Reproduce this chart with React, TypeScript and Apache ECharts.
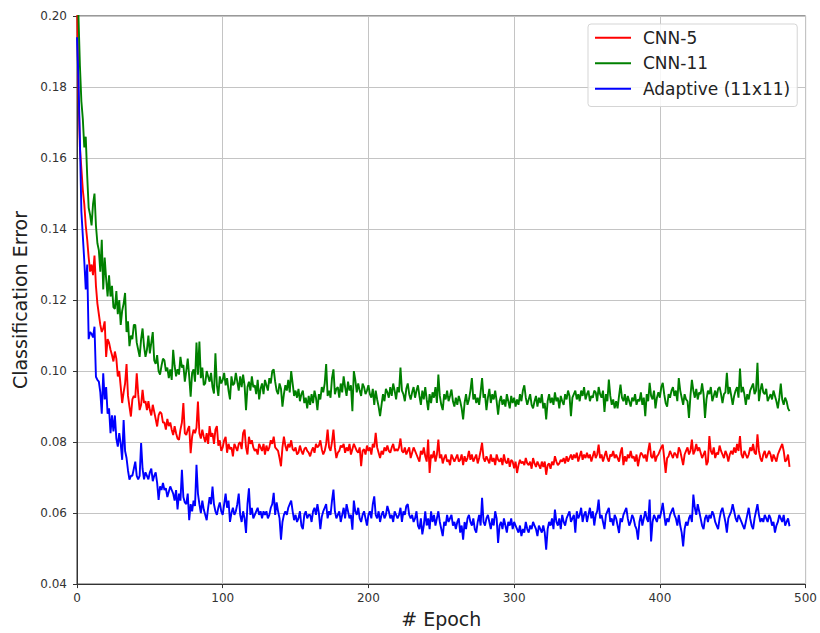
import React, { useEffect, useRef } from "react";
import * as echarts from "echarts";

const seriesNames = ["CNN-5", "CNN-11", "Adaptive (11x11)"];
const seriesColors = ["#ff0000", "#008000", "#0000ff"];
const xTicks = [0, 100, 200, 300, 400, 500];
const yTicks = [0.04, 0.06, 0.08, 0.1, 0.12, 0.14, 0.16, 0.18, 0.2];

const cnn5 = [
  .205, .178, .163, .157, .151, .147, .141, .137, .132, .128,
  .130, .127, .1325, .124, .119, .116, .113, .111, .112, .114,
  .104, .109, .108, .106, .1045, .1027, .1055, .1035, .0985, .100,
  .0956, .091, .094, .0965, .102, .093, .090, .0872, .092, .093,
  .0925, .0994, .0935, .089, .0905, .0947, .091, .0915, .089, .0915,
  .089, .0875, .0905, .0885, .0865, .0844, .0875, .0885, .088, .0855,
  .0855, .0835, .0865, .0845, .0855, .0835, .082, .0845, .0825, .081,
  .0806, .0835, .0855, .091, .0825, .082, .0835, .0845, .0769, .0815,
  .0835, .0825, .084, .0914, .0825, .081, .0835, .0815, .080, .0825,
  .0795, .0845, .0815, .0825, .0795, .0835, .0845, .079, .0805, .0775,
  .0785, .0805, .0815, .077, .0795, .078, .0785, .076, .0795, .0785,
  .0775, .0795, .080, .078, .0825, .0835, .0785, .0765, .0815, .0795,
  .0805, .0785, .0775, .078, .0765, .0795, .0785, .0775, .0795, .0765,
  .079, .0775, .0785, .0805, .0795, .0815, .0785, .078, .0775, .0755,
  .0732, .0785, .0815, .079, .0775, .0795, .0785, .0805, .078, .0775,
  .0785, .0765, .077, .079, .0775, .0765, .078, .0785, .0775, .077,
  .076, .0775, .0785, .077, .0795, .0785, .079, .0805, .078, .0765,
  .0775, .0795, .0835, .0785, .0775, .080, .0835, .0785, .0755, .077,
  .0775, .079, .0785, .0795, .077, .0785, .0775, .0795, .0765, .078,
  .0795, .0785, .0775, .077, .0785, .0732, .0775, .078, .0765, .079,
  .0775, .0785, .0765, .0795, .0785, .0826, .0785, .077, .0755, .0775,
  .0765, .0785, .0775, .079, .0775, .077, .0785, .0795, .0775, .078,
  .0775, .0785, .081, .0775, .077, .0785, .0765, .0775, .0785, .0755,
  .077, .0785, .0775, .0765, .0755, .0745, .0775, .0765, .0785, .076,
  .0745, .0807, .0713, .0765, .0755, .0775, .0745, .0765, .0807, .0755,
  .0765, .074, .0755, .0765, .0745, .075, .0735, .0765, .0755, .0745,
  .0755, .0765, .0745, .075, .0765, .0735, .076, .0745, .0755, .0775,
  .075, .0765, .0745, .0755, .0765, .074, .0755, .0775, .0798, .0755,
  .0745, .076, .075, .074, .0765, .0745, .0755, .0735, .0765, .075,
  .0745, .0755, .0735, .0765, .0745, .074, .0755, .073, .075, .0745,
  .0726, .0745, .0713, .0735, .075, .074, .0745, .0735, .0755, .074,
  .0735, .0745, .0725, .0755, .074, .073, .0745, .0735, .0725, .0745,
  .073, .0745, .0708, .0735, .074, .0725, .0745, .0735, .076, .0745,
  .0735, .074, .075, .0745, .0755, .074, .076, .0745, .0755, .0765,
  .075, .0765, .0755, .077, .0745, .076, .0775, .075, .0765, .0755,
  .077, .0755, .0765, .0745, .076, .0775, .0755, .0765, .0793, .0755,
  .0765, .0745, .076, .0775, .0755, .0745, .0765, .076, .0775, .0755,
  .0765, .0755, .0745, .077, .0785, .0735, .076, .0745, .0765, .0755,
  .0775, .0755, .076, .0745, .0765, .0732, .0755, .077, .0765, .0755,
  .0765, .0745, .0775, .0798, .076, .0755, .0775, .0745, .076, .0765,
  .0775, .0785, .0793, .0755, .0713, .0755, .076, .0775, .0765, .0755,
  .077, .0765, .0755, .0785, .0775, .0755, .0735, .0765, .0775, .0785,
  .0765, .0775, .0807, .0765, .0775, .0795, .0775, .0785, .077, .0755,
  .0765, .0775, .0735, .0745, .0817, .0775, .0765, .0785, .0755, .077,
  .0765, .079, .0775, .0765, .0755, .0775, .0765, .0745, .0765, .0775,
  .0765, .0785, .077, .0795, .0775, .0817, .0765, .0755, .0775, .0765,
  .0755, .0765, .0785, .0775, .0795, .077, .0765, .0822, .0775, .0755,
  .0745, .0765, .0775, .0755, .0765, .0775, .0765, .0745, .0765, .0755,
  .0745, .0765, .0775, .0785, .0795, .0775, .0745, .075, .0765, .073,
];

const cnn11 = [
  .215, .200, .186, .176, .171, .163, .166, .155, .146, .144,
  .141, .147, .150, .141, .136, .134, .128, .137, .123, .132,
  .126, .121, .127, .121, .124, .118, .1175, .1225, .116, .120,
  .113, .117, .119, .122, .111, .114, .107, .110, .109, .113,
  .113, .108, .106, .104, .109, .112, .107, .104, .106, .110,
  .105, .108, .111, .103, .102, .1045, .100, .099, .1015, .1035,
  .103, .100, .101, .098, .1005, .0975, .106, .1015, .0985, .1005,
  .099, .104, .101, .1017, .097, .100, .1035, .0985, .0928, .0995,
  .1005, .097, .108, .099, .1083, .098, .101, .096, .0965, .100,
  .0985, .097, .0995, .0955, .0937, .105, .096, .093, .0985, .0965,
  .0975, .0995, .096, .098, .0945, .092, .0985, .096, .0965, .0995,
  .097, .0945, .0985, .0955, .099, .096, .089, .0955, .097, .0945,
  .0985, .0955, .096, .0935, .0975, .092, .095, .0965, .0935, .0975,
  .096, .0945, .098, .0965, .100, .1005, .097, .0945, .0935, .0965,
  .095, .090, .0935, .096, .0945, .0975, .094, .100, .0965, .093,
  .0945, .0925, .095, .0915, .0935, .0945, .091, .0925, .0895, .093,
  .0905, .0935, .091, .0945, .0925, .089, .0935, .092, .0955, .094,
  .0965, .102, .093, .0945, .0925, .098, .1005, .0935, .095, .0955,
  .0925, .0965, .094, .0985, .0955, .093, .097, .0945, .096, .0887,
  .100, .0975, .094, .0965, .0945, .093, .0965, .0955, .0935, .0945,
  .096, .0935, .0925, .095, .0905, .0945, .092, .090, .0873, .0905,
  .0935, .0915, .095, .094, .0925, .0955, .093, .0965, .0945, .092,
  .0955, .094, .101, .0945, .0935, .0915, .095, .0965, .0935, .092,
  .094, .0955, .0925, .0945, .096, .093, .0905, .0945, .092, .0955,
  .092, .089, .0935, .091, .094, .0925, .0955, .091, .099, .093,
  .0905, .089, .0935, .092, .0945, .0915, .093, .0948, .0915, .090,
  .0925, .0905, .093, .0915, .0895, .0864, .091, .0935, .0905, .092,
  .0945, .098, .092, .0935, .091, .0925, .0905, .094, .098, .0925,
  .0935, .089, .0925, .095, .091, .0935, .092, .0945, .0915, .0877,
  .0915, .093, .0905, .092, .090, .0935, .0915, .0895, .093, .091,
  .0925, .090, .092, .0905, .0935, .0915, .0945, .096, .0925, .0905,
  .092, .0935, .0905, .0895, .0915, .093, .090, .0925, .091, .0935,
  .0895, .091, .0864, .0915, .0935, .091, .0925, .0905, .094, .0915,
  .0925, .0895, .093, .0915, .0905, .0935, .092, .0945, .093, .0873,
  .0925, .0935, .0945, .092, .0935, .0915, .0945, .093, .0955, .092,
  .0935, .0945, .0915, .093, .0925, .0945, .094, .0915, .0955, .0935,
  .0925, .0945, .0885, .0935, .0915, .0976, .093, .0905, .092, .0895,
  .0915, .0895, .093, .0962, .0925, .0915, .0935, .0905, .093, .0915,
  .090, .0925, .0915, .0935, .0905, .092, .0915, .094, .0905, .0925,
  .0873, .0935, .0915, .0967, .093, .092, .0945, .0895, .0925, .094,
  .0925, .0955, .0967, .0935, .091, .090, .0935, .0925, .0945, .0955,
  .093, .0945, .0915, .098, .0945, .0925, .0905, .0935, .092, .0915,
  .0868, .093, .0975, .0945, .0925, .095, .092, .094, .0935, .0965,
  .0935, .0868, .092, .0945, .0935, .0955, .0915, .093, .0945, .0925,
  .095, .0955, .0935, .091, .0935, .094, .0995, .0935, .0955, .093,
  .0905, .093, .0945, .0955, .0925, .1007, .094, .0955, .0935, .0905,
  .0935, .092, .0945, .0955, .0965, .0935, .0945, .1023, .0915, .0945,
  .0965, .094, .0935, .095, .0915, .0925, .0935, .092, .0945, .093,
  .0915, .0895, .0925, .0965, .092, .0905, .0925, .0915, .0895, .0887,
];

const adaptive = [
  .194, .182, .165, .145, .138, .131, .123, .130, .109, .111,
  .1105, .1095, .1125, .0984, .0975, .097, .094, .088, .0994, .092,
  .0955, .088, .0895, .0825, .0875, .083, .0875, .081, .0787, .0825,
  .0795, .075, .0862, .0775, .0755, .072, .0694, .0705, .0705, .0725,
  .0745, .0705, .0695, .0705, .0797, .0725, .0695, .0715, .0705, .0695,
  .0715, .0725, .069, .0705, .0715, .0685, .0637, .0675, .0665, .0685,
  .0665, .067, .0645, .066, .0675, .0665, .0655, .0635, .0665, .061,
  .0655, .0635, .0722, .0645, .063, .0625, .0655, .058, .0625, .0605,
  .0635, .062, .0736, .0655, .0625, .060, .0635, .061, .0595, .058,
  .0615, .0645, .0625, .0675, .0625, .0605, .0595, .0615, .063, .0605,
  .0595, .0625, .0655, .0615, .0635, .0575, .060, .0615, .0595, .0605,
  .0625, .0655, .0595, .0575, .0605, .0585, .0544, .0625, .067, .0595,
  .0615, .0585, .0595, .0605, .0615, .0595, .0605, .0585, .0605, .0595,
  .0605, .0585, .0595, .0615, .0625, .0657, .0595, .063, .0605, .0585,
  .0525, .0575, .0595, .0605, .0595, .0615, .0625, .0635, .0605, .058,
  .0595, .0575, .0585, .0605, .0565, .0555, .0595, .0605, .0585, .0595,
  .0595, .0575, .0605, .0615, .0595, .0625, .060, .0555, .059, .0605,
  .0615, .0625, .0585, .0605, .0595, .0635, .0666, .0605, .0585, .0595,
  .0605, .0575, .0595, .0615, .0585, .0625, .0605, .0585, .0595, .0553,
  .0635, .0605, .0595, .0615, .0585, .0575, .0595, .0605, .0585, .0565,
  .0595, .0605, .0585, .0625, .0647, .0595, .0585, .0605, .0575, .0595,
  .0605, .0585, .0595, .062, .0605, .0585, .0595, .0575, .0605, .0595,
  .0585, .0595, .0615, .0575, .0605, .0595, .062, .0625, .0595, .0585,
  .0595, .0575, .0585, .0605, .0565, .0555, .0585, .054, .0565, .0605,
  .0565, .0585, .0555, .0605, .0575, .0595, .0565, .0585, .0605, .0575,
  .0555, .0535, .0575, .0565, .0595, .0575, .0585, .0595, .0565, .0575,
  .0555, .0575, .0585, .0545, .0565, .0525, .0575, .0555, .0585, .0595,
  .0575, .0565, .0585, .0555, .0545, .0575, .0595, .0565, .0643, .0575,
  .0565, .0585, .0595, .0575, .0555, .0585, .0565, .0605, .0585, .0516,
  .0565, .0575, .0555, .0585, .0565, .0545, .0575, .0565, .0585, .0555,
  .0575, .0565, .0555, .0545, .0565, .0535, .0555, .0545, .0575, .0555,
  .0545, .0565, .0555, .0575, .0565, .0555, .0535, .0565, .0555, .0545,
  .0565, .0545, .0497, .0555, .0575, .0565, .0585, .0555, .061, .0575,
  .0565, .0585, .0555, .0595, .0575, .0565, .0585, .0595, .0605, .0575,
  .0585, .0595, .0545, .0605, .0585, .0595, .0615, .0575, .0595, .0605,
  .0575, .0595, .0615, .0585, .0605, .0565, .0595, .0605, .0638, .0585,
  .0595, .0575, .0555, .0595, .0605, .0615, .0575, .0585, .0565, .0595,
  .0585, .0565, .0544, .0585, .0575, .0595, .0605, .0615, .0585, .0565,
  .0575, .0595, .0585, .0565, .0555, .0525, .0575, .0595, .0565, .0585,
  .0605, .0585, .0575, .0638, .052, .0575, .0595, .0585, .0575, .0595,
  .0585, .0605, .0629, .0595, .0565, .0585, .0575, .0595, .0605, .0615,
  .0595, .0585, .0565, .0595, .0565, .0545, .0506, .0555, .0575, .0565,
  .0585, .0595, .0575, .0652, .0615, .0595, .0625, .0605, .0585, .0565,
  .0555, .0585, .0595, .0575, .0595, .0585, .0605, .0595, .0575, .0565,
  .0555, .0585, .0605, .0615, .0595, .0575, .0545, .0585, .0595, .0605,
  .0625, .0605, .0585, .0575, .0595, .0585, .0575, .0565, .0555, .0575,
  .0595, .0615, .0585, .0565, .0555, .0585, .0605, .0625, .0595, .0575,
  .0585, .0575, .0595, .0585, .0575, .0595, .0585, .0565, .0575, .0545,
  .0565, .0575, .0595, .0585, .0575, .0595, .0565, .0575, .0585, .0563,
];

const allSeries = [cnn5, cnn11, adaptive];

const FONT = "DejaVu Sans";

export default function App() {
  const ref = useRef<HTMLDivElement>(null);

  useEffect(() => {
    if (!ref.current) return;
    const chart = echarts.init(ref.current, undefined, { renderer: "svg" });
    chart.setOption({
      animation: false,
      backgroundColor: "#ffffff",
      grid: {
        left: 77,
        top: 16,
        width: 731,
        height: 569,
        show: true,
        borderColor: "#333333",
        borderWidth: 1,
        backgroundColor: "transparent",
      },
      legend: {
        orient: "vertical",
        left: 588,
        top: 24,
        data: seriesNames,
        icon: "rect",
        itemWidth: 36,
        itemHeight: 2,
        itemGap: 8,
        itemStyle: { borderWidth: 0 },
        padding: [5, 7, 9, 7],
        backgroundColor: "rgba(255,255,255,0.85)",
        borderColor: "#d5d5d5",
        borderWidth: 1,
        borderRadius: 3,
        textStyle: {
          fontFamily: FONT,
          fontSize: 17,
          color: "#222222",
          lineHeight: 17.5,
          padding: [0, 0, 0, 7],
        },
      },
      xAxis: {
        type: "value",
        min: xTicks[0],
        max: xTicks[xTicks.length - 1],
        interval: 100,
        name: "# Epoch",
        nameLocation: "middle",
        nameGap: 24,
        nameTextStyle: { fontFamily: FONT, fontSize: 19, color: "#222222" },
        axisLine: { show: true, lineStyle: { color: "#333333", width: 1 } },
        axisTick: { show: true, inside: false, length: 4, lineStyle: { color: "#333333" } },
        axisLabel: {
          fontFamily: FONT,
          fontSize: 12,
          color: "#333333",
          margin: 8,
          formatter: (v: number) => String(v),
        },
        splitLine: { show: true, lineStyle: { color: "#c4c4c4", width: 1 } },
      },
      yAxis: {
        type: "value",
        min: yTicks[0],
        max: yTicks[yTicks.length - 1],
        interval: 0.02,
        name: "Classification Error",
        nameLocation: "middle",
        nameGap: 47,
        nameTextStyle: { fontFamily: FONT, fontSize: 19, color: "#222222" },
        axisLine: { show: true, lineStyle: { color: "#333333", width: 1 } },
        axisTick: { show: true, inside: false, length: 4, lineStyle: { color: "#333333" } },
        axisLabel: {
          fontFamily: FONT,
          fontSize: 12,
          color: "#333333",
          margin: 10,
          formatter: (v: number) => v.toFixed(2),
        },
        splitLine: { show: true, lineStyle: { color: "#c4c4c4", width: 1 } },
      },
      series: allSeries.map((vals, si) => ({
        name: seriesNames[si],
        type: "line",
        data: vals.map((v, i) => [i, v]),
        showSymbol: false,
        symbol: "none",
        clip: true,
        color: seriesColors[si],
        lineStyle: { color: seriesColors[si], width: 1.9 },
        emphasis: { disabled: true },
      })),
    });
    return () => chart.dispose();
  }, []);

  return (
    <div
      ref={ref}
      style={{ position: "fixed", left: 0, top: 0, width: 820, height: 633 }}
    />
  );
}
